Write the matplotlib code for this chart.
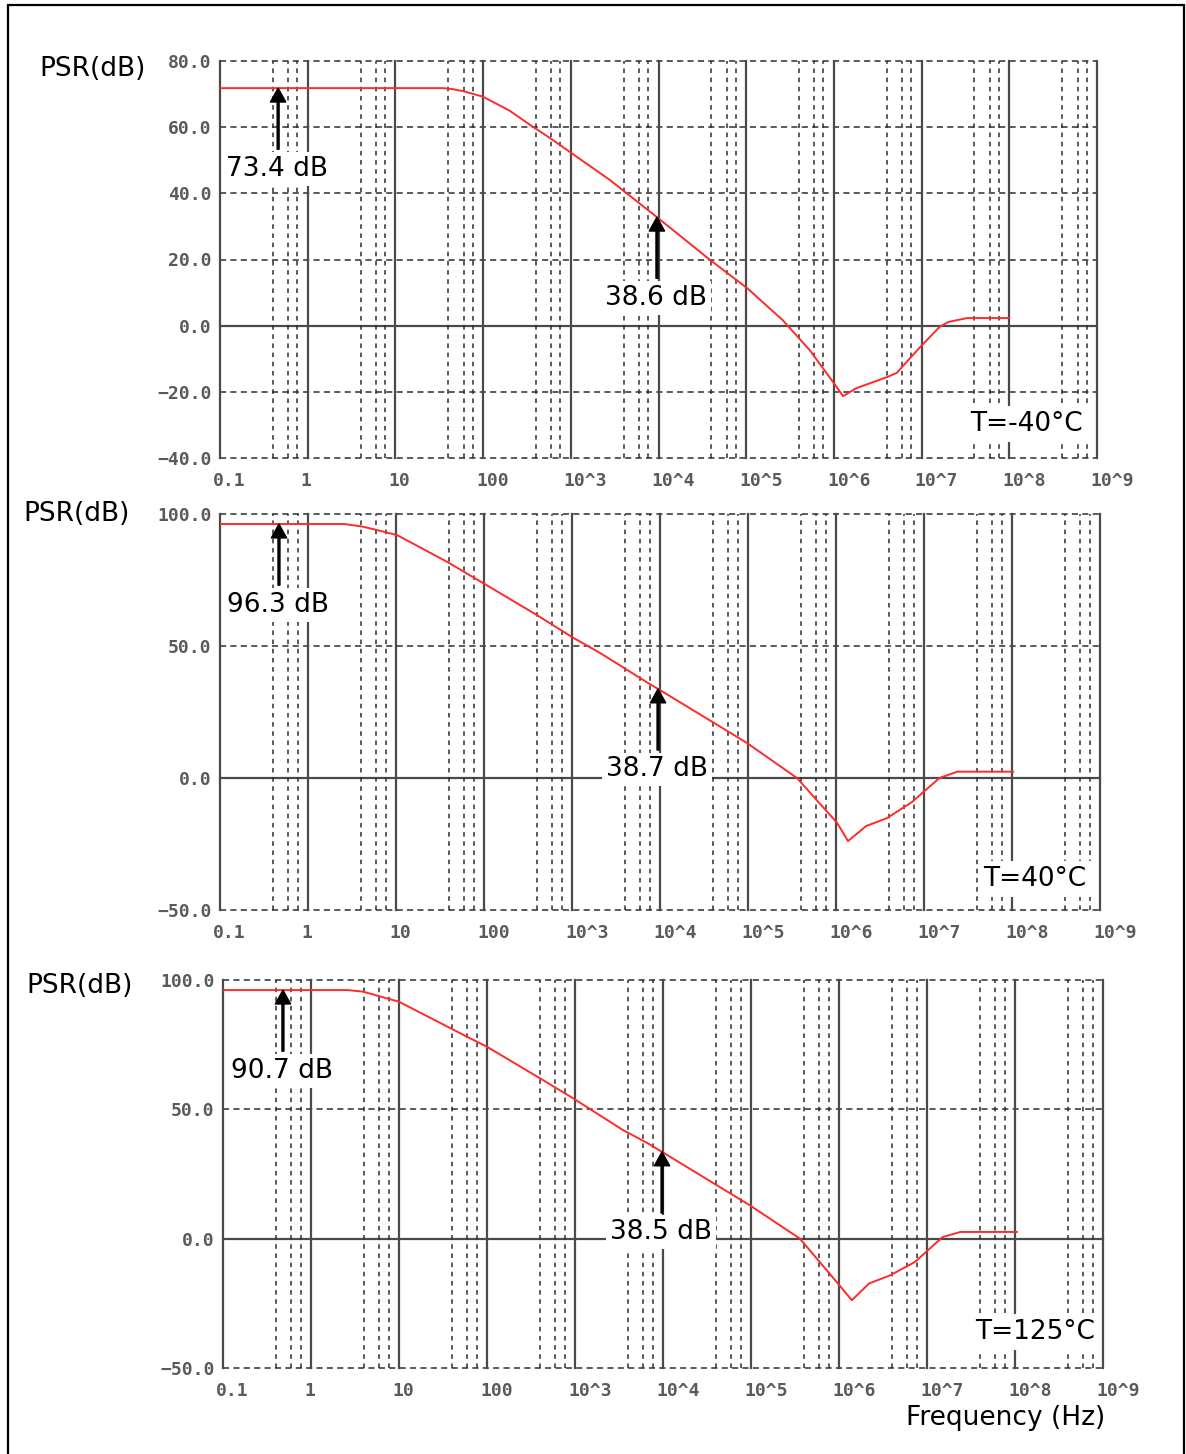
import numpy as np
import matplotlib
matplotlib.use("Agg")
import matplotlib.pyplot as plt
from matplotlib import transforms as mtrans
from matplotlib.patches import Rectangle

W, H, DPI = 1186, 1454, 100

# ---------------- data ----------------
freq_decades = [0.1, 1, 10, 100, 1e3, 1e4, 1e5, 1e6, 1e7, 1e8, 1e9]
freq_tick_labels = ["0.1", "1", "10", "100", "10^3", "10^4", "10^5",
                    "10^6", "10^7", "10^8", "10^9"]

# T = -40 C
f_m40 = [0.1, 35, 45, 59, 100, 200, 370, 580, 2.8e3, 9.6e3, 3.9e4, 1.02e5,
         2.6e5, 5.3e5, 1.08e6, 1.27e6, 1.8e6, 4.0e6, 5.2e6, 9.6e6, 1.6e7,
         2.0e7, 3.3e7, 1e8]
psr_m40 = [71.8, 71.8, 71.5, 70.9, 69.2, 65.0, 60.1, 56.7, 44.0, 32.8, 19.8,
           11.4, 1.7, -7.4, -18.6, -21.3, -18.9, -15.6, -14.3, -6.5, -0.4,
           1.1, 2.3, 2.3]

# T = 40 C
f_40 = [0.1, 2.6, 4.2, 6.1, 10.3, 38, 97, 400, 1.0e3, 2.1e3, 7.3e3, 1e4,
        9.7e4, 3.6e5, 1.03e6, 1.37e6, 2.2e6, 3.8e6, 7.3e6, 1.5e7, 2.4e7,
        1.03e8]
psr_40 = [96.2, 96.2, 95.2, 93.9, 92.0, 81.9, 73.9, 61.7, 53.4, 47.3, 36.0,
          33.3, 13.3, 0.0, -17.0, -23.9, -18.2, -15.2, -9.1, 0.0, 2.4, 2.4]

# T = 125 C
f_125 = [0.1, 2.6, 3.9, 10, 59, 100, 400, 950, 3.5e3, 6.7e3, 9.8e3, 9.7e4,
         3.6e5, 9.7e5, 1.4e6, 2.2e6, 3.8e6, 7.3e6, 1.5e7, 2.4e7, 1.05e8]
psr_125 = [96.1, 96.1, 95.5, 91.6, 78.1, 74.2, 62.0, 54.3, 42.0, 36.9, 33.5,
           12.9, 0.0, -17.3, -23.8, -17.3, -14.2, -9.0, 0.6, 2.6, 2.6]

yticks_m40 = [80, 60, 40, 20, 0, -20, -40]
ylabels_m40 = ["80.0", "60.0", "40.0", "20.0", "0.0", "\u221220.0", "\u221240.0"]
yticks_hi = [100, 50, 0, -50]
ylabels_hi = ["100.0", "50.0", "0.0", "\u221250.0"]

temp_labels = ["T=-40°C", "T=40°C", "T=125°C"]
low_ann_freq = [0.46, 0.468, 0.48]
low_ann_text = ["73.4 dB", "96.3 dB", "90.7 dB"]
mid_ann_freq = [9.6e3, 9.5e3, 9.75e3]
mid_ann_text = ["38.6 dB", "38.7 dB", "38.5 dB"]

# ---------------- layout / style ----------------
panel_px = [(220, 61, 1097, 458), (220, 514, 1100, 910), (223, 980, 1103, 1368)]
psr_label_px = [(146, 69), (130, 514), (133, 986)]
temp_pos = [(0.920, 0.086), (0.926, 0.078), (0.923, 0.093)]

GRID_C = "#2e2e2e"
DEC_C = "#4a4a4a"
RED = "#ff2a2a"
TICK_C = "#5a5a5a"
FS = 19
MONO = "DejaVu Sans Mono"

fig = plt.figure(figsize=(W / DPI, H / DPI), dpi=DPI)
fig.patch.set_facecolor("white")


def px_rect(l, t, r, b):
    return [l / W, 1 - b / H, (r - l) / W, (b - t) / H]


panels = [
    (f_m40, psr_m40, yticks_m40, ylabels_m40),
    (f_40, psr_40, yticks_hi, ylabels_hi),
    (f_125, psr_125, yticks_hi, ylabels_hi),
]

for i, (fx, py, yt, yl) in enumerate(panels):
    ax = fig.add_axes(px_rect(*panel_px[i]))
    ax.set_xscale("log")
    ax.set_xlim(freq_decades[0], freq_decades[-1])
    ax.set_ylim(min(yt), max(yt))
    for s in ax.spines.values():
        s.set_visible(False)
    ax.set_xticks([])
    ax.set_xticks([], minor=True)
    ax.set_yticks(yt, labels=yl)
    ax.tick_params(which="both", length=0)
    ax.tick_params(axis="y", pad=6, labelsize=13, labelcolor=TICK_C)
    for lab in ax.get_yticklabels():
        lab.set_family(MONO)
        lab.set_weight("bold")

    # horizontal grid
    for y in yt:
        if y == 0:
            ax.axhline(y, color=DEC_C, lw=1.6, zorder=1, clip_on=False)
        else:
            ax.axhline(y, color=GRID_C, lw=1.1, ls=(0, (4.0, 2.8)), zorder=1,
                       clip_on=False)
    # vertical minor (dashed) grid
    for d in freq_decades[:-1]:
        for m in (4, 6, 7.6):
            ax.axvline(d * m, color=GRID_C, lw=1.1, ls=(0, (3.0, 3.0)),
                       zorder=1, clip_on=False)
    # vertical decade lines
    for d in freq_decades:
        ax.axvline(d, color=DEC_C, lw=1.6, zorder=1.5, clip_on=False)

    # curve
    ax.plot(fx, py, color=RED, lw=1.4, zorder=3, solid_joinstyle="round")

    # x tick labels
    xt = mtrans.blended_transform_factory(ax.transData, ax.transAxes) + \
        mtrans.ScaledTranslation(-7 / DPI, -23 / DPI, fig.dpi_scale_trans)
    for d, lab in zip(freq_decades, freq_tick_labels):
        ax.text(d, 0, lab, transform=xt, ha="left", va="center",
                fontsize=13, color=TICK_C, family=MONO, weight="bold")

    # annotations
    lx = np.log10(fx)
    for fa, txt in ((low_ann_freq[i], low_ann_text[i]),
                    (mid_ann_freq[i], mid_ann_text[i])):
        yc = float(np.interp(np.log10(fa), lx, py))
        ax.annotate("", xy=(fa, yc), xytext=(0, -44), textcoords="offset points",
                    arrowprops=dict(facecolor="black", edgecolor="black",
                                    width=1.4, headwidth=11, headlength=10,
                                    shrink=0),
                    zorder=6)
        ax.annotate(txt, xy=(fa, yc), xytext=(-1, -58), textcoords="offset points",
                    ha="center", va="center", fontsize=FS, color="black",
                    bbox=dict(boxstyle="square,pad=0.15", fc="white", ec="none"),
                    zorder=5)

    ax.text(temp_pos[i][0], temp_pos[i][1], temp_labels[i], transform=ax.transAxes,
            ha="center", va="center", fontsize=FS, color="black",
            bbox=dict(boxstyle="square,pad=0.2", fc="white", ec="none"), zorder=5)

    lx_px, ly_px = psr_label_px[i]
    fig.text(lx_px / W, 1 - ly_px / H, "PSR(dB)", ha="right", va="center",
             fontsize=FS, color="black")

fig.text(1105 / W, 1 - 1418 / H, "Frequency (Hz)", ha="right", va="center",
         fontsize=FS, color="black")

fig.add_artist(Rectangle((7.5 / W, -0.05), (1184 - 7.5) / W, 1.05 - 5 / H,
                         fill=False, ec="black", lw=1.6,
                         transform=fig.transFigure))

fig.savefig("out.png", dpi=DPI, facecolor="white")
